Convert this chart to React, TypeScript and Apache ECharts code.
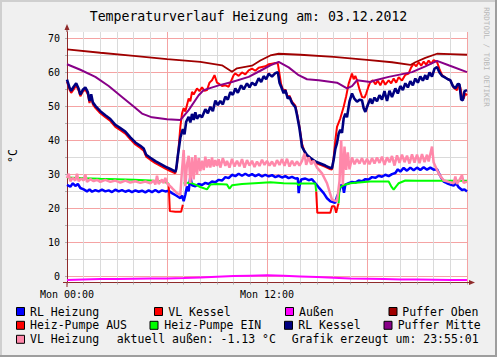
import React, { useEffect, useRef } from "react";
import * as echarts from "echarts";

// ---- data (hours of the day, °C) ----
const rlHeizung: [number, number][] = [
  [0, 26.9], [0.2, 26.4], [0.35, 27.4], [0.5, 26.6], [0.65, 27.2], [0.8, 26.0], [1.0, 25.6], [1.2, 25.0], [1.35, 25.6], [1.5, 24.9], [1.7, 25.4], [1.9, 25.0], [2.1, 25.5], [2.3, 25.0], [2.5, 25.3], [2.7, 24.8], [2.9, 25.5], [3.1, 25.0], [3.3, 25.4], [3.5, 24.9], [3.7, 25.3], [3.9, 24.8], [4.1, 25.3], [4.3, 24.9], [4.5, 25.2], [4.7, 24.7], [4.9, 25.3], [5.1, 24.8], [5.3, 25.4], [5.5, 24.8], [5.7, 25.3], [5.9, 25.0], [6.1, 25.2], [6.3, 24.5], [6.55, 23.8], [6.8, 23.0], [6.9, 23.8], [7.0, 22.1], [7.1, 24.0], [7.2, 26.5], [7.3, 25.0], [7.4, 29.4], [7.5, 26.8], [7.7, 26.5], [7.9, 27.2], [8.1, 26.9], [8.3, 27.5], [8.5, 27.2], [8.7, 27.9], [8.9, 27.7], [9.1, 28.4], [9.3, 28.2], [9.5, 29.2], [9.7, 28.9], [9.9, 29.9], [10.1, 29.5], [10.3, 30.2], [10.5, 29.6], [10.7, 30.2], [10.9, 29.6], [11.1, 30.1], [11.3, 29.5], [11.5, 30.0], [11.7, 29.4], [11.9, 29.9], [12.1, 29.4], [12.3, 29.8], [12.5, 29.2], [12.7, 29.6], [12.9, 29.1], [13.1, 29.5], [13.3, 28.9], [13.5, 29.3], [13.7, 28.8], [13.85, 28.9], [13.9, 24.5], [13.95, 26.5], [14.05, 28.5], [14.3, 28.8], [14.5, 28.3], [14.7, 28.6], [14.9, 27.4], [15.1, 26.2], [15.4, 24.5], [15.6, 23.0], [15.8, 22.1], [16.0, 21.8], [16.1, 21.6], [16.2, 23.5], [16.3, 24.5], [16.45, 27.0], [16.55, 26.5], [16.62, 24.6], [16.7, 27.0], [16.9, 27.4], [17.1, 27.8], [17.3, 27.6], [17.5, 28.2], [17.7, 28.0], [17.9, 28.6], [18.1, 28.5], [18.3, 29.2], [18.5, 29.0], [18.7, 29.6], [18.9, 29.3], [19.1, 29.9], [19.3, 29.5], [19.5, 30.1], [19.7, 30.4], [19.85, 31.5], [20.0, 30.8], [20.2, 31.9], [20.4, 31.1], [20.6, 32.0], [20.8, 31.2], [21.0, 32.0], [21.2, 31.3], [21.4, 32.1], [21.6, 31.4], [21.8, 32.0], [22.0, 31.4], [22.2, 31.5], [22.4, 29.5], [22.6, 27.9], [22.8, 27.4], [23.0, 27.0], [23.2, 26.7], [23.35, 27.4], [23.5, 26.2], [23.7, 25.4], [23.85, 25.6], [24, 25.0],
];

const vlKessel: [number, number][] = [
  [0, 57.3], [0.15, 55.0], [0.25, 54.0], [0.4, 55.0], [0.55, 56.2], [0.7, 54.6], [0.8, 53.0], [0.95, 54.4], [1.1, 55.0], [1.25, 53.6], [1.35, 51.0], [1.45, 53.0], [1.55, 50.6], [1.7, 49.6], [2.0, 48.0], [2.3, 46.8], [2.6, 45.7], [2.9, 44.0], [3.2, 43.0], [3.5, 42.0], [3.8, 40.3], [4.1, 38.8], [4.4, 37.8], [4.6, 37.0], [4.75, 35.2], [5.0, 34.3], [5.3, 33.3], [5.6, 32.5], [5.9, 31.7], [6.2, 31.0], [6.5, 30.3], [6.6, 33.0], [6.7, 38.0], [6.8, 44.0], [6.9, 47.9], [7.0, 49.5], [7.1, 48.5], [7.3, 52.3], [7.4, 51.5], [7.5, 54.3], [7.6, 53.5], [7.8, 55.3], [7.95, 54.5], [8.1, 55.6], [8.25, 54.6], [8.4, 54.8], [8.55, 57.0], [8.7, 57.7], [8.85, 59.2], [9.0, 57.0], [9.1, 56.7], [9.3, 56.0], [9.5, 56.2], [9.7, 55.8], [9.85, 57.5], [10.0, 59.2], [10.1, 59.7], [10.3, 59.0], [10.5, 60.0], [10.7, 59.4], [10.9, 60.6], [11.1, 61.1], [11.3, 60.5], [11.5, 61.4], [11.7, 61.6], [11.9, 61.8], [12.1, 62.4], [12.3, 62.6], [12.5, 62.8], [12.65, 62.6], [12.75, 59.5], [12.85, 56.5], [13.0, 54.3], [13.1, 55.0], [13.25, 52.6], [13.35, 53.2], [13.5, 51.4], [13.7, 50.2], [13.8, 48.0], [13.95, 44.0], [14.1, 39.0], [14.3, 35.9], [14.6, 34.5], [14.9, 33.4], [15.2, 32.8], [15.5, 32.2], [15.75, 31.6], [15.9, 31.4], [16.0, 35.0], [16.1, 40.0], [16.2, 44.0], [16.4, 46.5], [16.6, 49.9], [16.75, 53.0], [16.9, 56.7], [17.0, 58.2], [17.1, 59.7], [17.2, 58.0], [17.3, 59.0], [17.4, 57.7], [17.55, 55.0], [17.7, 52.8], [17.85, 52.6], [17.95, 53.8], [18.1, 56.0], [18.2, 57.2], [18.35, 57.7], [18.5, 56.5], [18.65, 57.6], [18.8, 56.2], [18.95, 57.8], [19.1, 56.4], [19.3, 57.7], [19.45, 56.8], [19.6, 58.2], [19.75, 57.0], [19.9, 58.6], [20.1, 57.6], [20.3, 59.3], [20.5, 59.7], [20.65, 61.5], [20.8, 62.6], [20.95, 61.8], [21.1, 63.0], [21.25, 62.0], [21.4, 63.2], [21.55, 62.3], [21.7, 63.5], [21.85, 62.6], [22.0, 63.6], [22.2, 63.1], [22.35, 61.0], [22.5, 59.2], [22.7, 58.5], [23.0, 57.7], [23.2, 55.5], [23.4, 54.8], [23.5, 56.2], [23.6, 55.6], [23.7, 53.0], [23.8, 52.3], [23.9, 53.8], [24, 53.3],
];

const aussen: [number, number][] = [
  [0, -1.1], [1, -0.9], [2, -0.8], [3, -0.8], [4, -0.7], [5, -0.6], [6, -0.6], [7, -0.5], [8, -0.3], [9, -0.1], [10, 0.1], [11, 0.2], [12, 0.3], [13, 0.2], [14, 0.0], [15, -0.2], [16, -0.4], [17, -0.6], [18, -0.7], [19, -0.8], [20, -0.9], [21, -0.9], [22, -1.0], [23, -1.1], [24, -1.1],
];

const pufferOben: [number, number][] = [
  [0, 66.8], [2, 65.8], [4, 64.9], [6, 63.9], [8, 63.1], [9.3, 62.1], [9.9, 60.2], [10.2, 61.2], [11.1, 62.0], [11.6, 63.5], [12.2, 65.0], [12.7, 65.5], [14, 65.2], [16, 64.6], [18, 63.7], [19.5, 63.0], [20.6, 62.2], [20.9, 63.0], [21.5, 64.3], [22.2, 65.5], [23, 65.4], [24, 65.2],
];

const heizPumpeAus: [number, number | null][] = [
  [6.1, 27.3], [6.17, 19.2], [6.5, 19.0], [6.85, 19.0], [6.95, 21.1], [6.96, null],
  [14.95, 25.0], [15.02, 18.7], [15.8, 18.7], [15.9, 20.6], [16.05, 20.6], [16.15, 18.7], [16.25, 20.8], [16.3, 21.5],
];

const heizPumpeEin: [number, number | null][] = [
  [0, 29.1], [1, 28.9], [2, 28.7], [3, 28.6], [4, 28.4], [5, 28.2], [5.8, 27.9], [6.1, 27.3], [6.5, null],
  [7.0, 27.4], [7.4, 27.6], [7.7, 27.0], [8.0, 26.3], [8.4, 25.6], [8.6, 27.0], [9.0, 27.2], [9.6, 27.0], [9.75, 25.8], [9.9, 26.8], [10.5, 27.2], [11.5, 27.5], [12.2, 27.7], [13.0, 27.4], [13.8, 27.3], [13.9, 26.8], [14.0, 27.3], [14.9, 27.3], [14.95, 25.0], [15.5, null],
  [16.3, 21.5], [16.35, 26.0], [16.6, 26.9], [17.0, 27.4], [18.2, 27.9], [19.3, 27.9], [19.45, 26.5], [19.6, 25.5], [19.75, 26.5], [19.9, 27.4], [20.3, 28.2], [21, 28.1], [22, 28.1], [23, 28.1], [24, 28.1],
];

const rlKessel: [number, number][] = [
  [0, 57.9], [0.15, 55.5], [0.25, 54.6], [0.4, 55.8], [0.55, 56.8], [0.7, 55.2], [0.8, 53.5], [0.95, 54.9], [1.1, 55.6], [1.25, 54.2], [1.35, 51.6], [1.45, 53.6], [1.55, 51.2], [1.7, 50.2], [2.0, 48.6], [2.3, 47.4], [2.6, 46.3], [2.9, 44.6], [3.2, 43.6], [3.5, 42.6], [3.8, 40.9], [4.1, 39.4], [4.4, 38.4], [4.6, 37.6], [4.75, 35.8], [5.0, 34.9], [5.3, 33.9], [5.6, 33.1], [5.9, 32.3], [6.2, 31.6], [6.5, 30.8], [6.55, 31.5], [6.65, 35.5], [6.8, 40.8], [6.95, 43.3], [7.05, 41.8], [7.15, 45.5], [7.3, 46.9], [7.4, 45.3], [7.5, 47.8], [7.6, 46.0], [7.7, 48.3], [7.8, 46.4], [7.95, 47.5], [8.1, 46.8], [8.3, 49.2], [8.45, 48.0], [8.6, 49.9], [8.75, 48.6], [8.9, 51.7], [9.05, 50.4], [9.2, 51.6], [9.35, 50.6], [9.5, 52.9], [9.65, 52.0], [9.8, 54.2], [9.95, 53.4], [10.1, 55.3], [10.25, 54.0], [10.45, 56.2], [10.6, 55.0], [10.8, 56.8], [10.95, 55.6], [11.1, 57.0], [11.3, 56.2], [11.5, 58.3], [11.65, 57.2], [11.8, 58.9], [11.95, 58.0], [12.1, 59.6], [12.3, 58.8], [12.5, 59.8], [12.65, 60.1], [12.75, 57.0], [12.85, 55.8], [13.0, 53.9], [13.1, 54.8], [13.25, 52.3], [13.35, 52.8], [13.5, 51.0], [13.7, 49.8], [13.8, 47.5], [13.95, 43.5], [14.1, 38.2], [14.25, 36.8], [14.4, 35.7], [14.6, 34.9], [14.9, 33.8], [15.2, 33.2], [15.5, 32.6], [15.75, 32.0], [15.9, 31.8], [16.0, 34.3], [16.1, 37.5], [16.2, 39.2], [16.3, 42.0], [16.4, 43.1], [16.5, 42.2], [16.6, 46.5], [16.7, 47.9], [16.8, 46.8], [16.95, 51.5], [17.1, 53.8], [17.25, 52.2], [17.4, 51.4], [17.55, 52.0], [17.7, 51.8], [17.8, 49.5], [17.9, 48.4], [18.05, 50.5], [18.2, 52.3], [18.3, 50.8], [18.45, 52.6], [18.6, 51.5], [18.75, 53.3], [18.9, 52.0], [19.05, 54.5], [19.2, 51.6], [19.35, 54.6], [19.5, 52.8], [19.7, 55.3], [19.85, 53.8], [20.0, 56.0], [20.15, 54.8], [20.3, 56.8], [20.45, 55.6], [20.6, 57.4], [20.75, 56.2], [20.9, 58.2], [21.05, 57.0], [21.2, 58.8], [21.35, 57.6], [21.5, 59.2], [21.6, 57.9], [21.75, 60.0], [21.9, 58.8], [22.05, 61.1], [22.2, 61.6], [22.35, 60.0], [22.5, 59.0], [22.65, 58.6], [22.85, 58.0], [23.0, 57.7], [23.15, 56.0], [23.3, 55.3], [23.45, 56.6], [23.55, 56.5], [23.65, 52.0], [23.75, 51.8], [23.85, 54.5], [24, 54.8],
];

const pufferMitte: [number, number][] = [
  [0, 62.4], [0.8, 60.8], [1.7, 58.7], [2.5, 56.0], [3.3, 52.8], [4.0, 50.0], [4.5, 47.9], [5.1, 46.8], [6.0, 46.2], [6.8, 46.0], [7.3, 48.9], [7.9, 53.3], [8.2, 54.8], [9.1, 56.2], [9.9, 57.2], [10.9, 58.7], [11.6, 60.5], [12.2, 62.1], [12.7, 63.1], [13.3, 61.5], [13.9, 59.2], [14.4, 58.0], [15.1, 57.7], [16.2, 57.0], [16.8, 55.3], [17.1, 56.0], [17.4, 57.7], [18.2, 57.2], [18.5, 57.7], [19.3, 58.7], [20.7, 60.1], [21.5, 61.8], [22.2, 63.4], [22.9, 62.1], [24, 60.1],
];

const vlHeizung: [number, number][] = [
  [0, 28.9], [0.1, 30.2], [0.2, 28.0], [0.35, 29.0], [0.5, 28.2], [0.6, 30.2], [0.7, 28.0], [0.85, 28.8], [1.0, 28.2], [1.1, 30.0], [1.2, 27.8], [1.4, 28.6], [1.6, 28.0], [1.8, 28.4], [2.0, 27.8], [2.3, 28.4], [2.6, 27.8], [2.9, 28.2], [3.2, 27.6], [3.5, 28.2], [3.8, 27.6], [4.1, 28.0], [4.4, 27.5], [4.7, 27.9], [5.0, 27.4], [5.2, 28.2], [5.3, 27.0], [5.4, 29.6], [5.5, 27.2], [5.7, 28.5], [5.8, 27.4], [5.9, 29.0], [6.0, 27.4], [6.3, 26.0], [6.6, 24.5], [6.8, 24.0], [6.9, 31.3], [7.0, 37.2], [7.1, 26.5], [7.2, 33.0], [7.3, 35.5], [7.4, 27.5], [7.5, 35.0], [7.6, 28.5], [7.7, 35.7], [7.8, 30.0], [7.9, 34.8], [8.0, 31.0], [8.1, 34.0], [8.2, 31.3], [8.3, 35.2], [8.4, 32.0], [8.5, 34.5], [8.6, 32.0], [8.7, 35.0], [8.8, 32.3], [8.9, 34.2], [9.0, 32.5], [9.1, 34.5], [9.2, 32.0], [9.35, 34.8], [9.5, 32.5], [9.6, 34.0], [9.75, 32.0], [9.9, 34.6], [10.05, 32.3], [10.2, 34.0], [10.35, 32.4], [10.5, 34.5], [10.65, 32.0], [10.8, 34.2], [10.95, 32.6], [11.1, 34.0], [11.25, 32.2], [11.4, 33.8], [11.55, 32.5], [11.7, 34.3], [11.85, 32.8], [12.0, 34.0], [12.15, 32.6], [12.3, 33.8], [12.45, 32.4], [12.6, 34.2], [12.75, 32.8], [12.9, 34.5], [13.05, 32.5], [13.2, 34.6], [13.35, 32.3], [13.5, 34.0], [13.65, 32.6], [13.8, 33.8], [13.95, 32.6], [14.1, 34.0], [14.25, 36.1], [14.35, 32.8], [14.5, 35.0], [14.65, 33.0], [14.8, 34.0], [15.0, 32.0], [15.3, 30.3], [15.6, 27.4], [15.9, 22.6], [16.2, 22.1], [16.35, 28.0], [16.45, 40.1], [16.55, 27.0], [16.65, 38.2], [16.75, 31.3], [16.85, 36.5], [16.95, 31.5], [17.1, 35.0], [17.25, 33.0], [17.4, 34.5], [17.55, 33.2], [17.7, 34.8], [17.85, 33.0], [18.0, 34.6], [18.15, 33.0], [18.3, 34.8], [18.45, 33.2], [18.6, 35.0], [18.75, 33.4], [18.9, 35.2], [19.05, 32.8], [19.2, 35.0], [19.35, 33.6], [19.5, 35.4], [19.65, 32.6], [19.8, 35.6], [19.95, 33.4], [20.1, 35.8], [20.25, 33.6], [20.4, 35.5], [20.55, 33.2], [20.7, 35.9], [20.85, 33.5], [21.0, 35.8], [21.15, 33.3], [21.3, 36.0], [21.45, 33.6], [21.6, 35.8], [21.7, 33.8], [21.8, 36.0], [21.9, 38.2], [22.0, 33.5], [22.2, 31.3], [22.4, 29.5], [22.6, 28.3], [22.9, 27.8], [23.2, 27.4], [23.3, 29.4], [23.4, 27.2], [23.55, 28.4], [23.7, 29.8], [23.8, 27.5], [24, 27.9],
];

const seriesNames = ["RL Heizung", "VL Kessel", "Außen", "Puffer Oben", "Heiz-Pumpe AUS", "Heiz-Pumpe EIN", "RL Kessel", "Puffer Mitte", "VL Heizung"];
const seriesColors = ["#0000ff", "#ff0000", "#ff00ff", "#a00000", "#ff0000", "#00ff00", "#000080", "#880088", "#ff88aa"];
const seriesWidths = [2.5, 2, 2, 1.8, 2, 2, 2.6, 2, 2.5];
const seriesData = [rlHeizung, vlKessel, aussen, pufferOben, heizPumpeAus, heizPumpeEin, rlKessel, pufferMitte, vlHeizung];

const yTickValues = [0, 5, 10, 15, 20, 25, 30, 35, 40, 45, 50, 55, 60, 65, 70];
const yLabelValues = [0, 10, 20, 30, 40, 50, 60, 70];
const xLabelHours = [0, 12];
const xLabelTexts = ["Mon 00:00", "Mon 12:00"];

const titleText = "Temperaturverlauf Heizung am: 03.12.2012";
const unitText = "°C";
const currentText = "aktuell außen: -1.13 °C";
const createdText = "Grafik erzeugt um: 23:55:01";
const creditText = "RRDTOOL / TOBI OETIKER";

const MONO = '"DejaVu Sans Mono", monospace';
const MAJOR = "#f5a3a3";
const MINOR = "#dadada";
const AXIS = "#8f2a2a";

// legend layout: [seriesIndex, boxX, textX, rowY]
const legendLayout: [number, number, number, number][] = [
  [0, 16.5, 30, 311.5], [1, 154.5, 168.3, 311.5], [2, 285.5, 299, 311.5], [3, 389, 402.3, 311.5],
  [4, 16.5, 30, 325.3], [5, 150, 164.3, 325.3], [6, 284.5, 298.3, 325.3], [7, 384, 397.7, 325.3],
  [8, 16.5, 30, 339.3],
];

export default function App() {
  const ref = useRef<HTMLDivElement>(null);
  useEffect(() => {
    document.body.style.margin = "0";
    if (!ref.current) return;
    const chart = echarts.init(ref.current, undefined, { renderer: "svg" });

    const graphics: any[] = [
      { type: "rect", shape: { x: 0, y: 0, width: 497, height: 2 }, style: { fill: "#cfcfcf" }, silent: true },
      { type: "rect", shape: { x: 0, y: 0, width: 2, height: 357 }, style: { fill: "#cfcfcf" }, silent: true },
      { type: "rect", shape: { x: 0, y: 355, width: 497, height: 2 }, style: { fill: "#9e9e9e" }, silent: true },
      { type: "rect", shape: { x: 495, y: 0, width: 2, height: 357 }, style: { fill: "#9e9e9e" }, silent: true },
      { type: "text", x: 248.5, y: 16.5, style: { text: titleText, font: `13.2px ${MONO}`, fill: "#000", textAlign: "center", textVerticalAlign: "middle" } },
      { type: "text", x: 13, y: 156, rotation: Math.PI / 2, style: { text: unitText, font: `11.5px ${MONO}`, fill: "#000", textAlign: "center", textVerticalAlign: "middle" } },
      { type: "text", x: 486, y: 57, rotation: -Math.PI / 2, style: { text: creditText, font: `7.5px ${MONO}`, fill: "#b8b8b8", textAlign: "center", textVerticalAlign: "middle" } },
      // axis extensions and arrows
      { type: "line", shape: { x1: 67, y1: 26, x2: 67, y2: 32 }, style: { stroke: AXIS, lineWidth: 1 }, z: 10 },
      { type: "line", shape: { x1: 67, y1: 282, x2: 67, y2: 287 }, style: { stroke: AXIS, lineWidth: 1 }, z: 10 },
      { type: "polygon", shape: { points: [[64.5, 30], [69.5, 30], [67, 24]] }, style: { fill: AXIS }, z: 10 },
      { type: "line", shape: { x1: 63, y1: 282.5, x2: 67, y2: 282.5 }, style: { stroke: AXIS, lineWidth: 1 }, z: 10 },
      { type: "line", shape: { x1: 467, y1: 282.5, x2: 472, y2: 282.5 }, style: { stroke: AXIS, lineWidth: 1 }, z: 10 },
      { type: "polygon", shape: { points: [[469, 280], [469, 285], [475, 282.5]] }, style: { fill: AXIS }, z: 10 },
      { type: "text", x: 116.7, y: 339.3, style: { text: currentText, font: `11.5px ${MONO}`, fill: "#000", textAlign: "left", textVerticalAlign: "middle" } },
      { type: "text", x: 291.7, y: 339.3, style: { text: createdText, font: `11.5px ${MONO}`, fill: "#000", textAlign: "left", textVerticalAlign: "middle" } },
    ];
    legendLayout.forEach(([si, bx, tx, ry]) => {
      graphics.push({ type: "rect", shape: { x: bx, y: ry - 4, width: 8, height: 8 }, style: { fill: seriesColors[si], stroke: "#000", lineWidth: 1 } });
      graphics.push({ type: "text", x: tx, y: ry, style: { text: seriesNames[si], font: `11.5px ${MONO}`, fill: "#000", textAlign: "left", textVerticalAlign: "middle" } });
    });

    chart.setOption({
      animation: false,
      backgroundColor: "#f0f0f0",
      grid: { left: 67, right: 30, top: 32, bottom: 74.5, show: true, backgroundColor: "#ffffff", borderWidth: 0, containLabel: false },
      xAxis: {
        type: "value",
        min: 0,
        max: 24,
        interval: 1,
        axisLine: { show: true, onZero: false, lineStyle: { color: AXIS, width: 1 } },
        axisTick: { show: true, length: 2, lineStyle: { color: "#b0b0b0" } },
        axisLabel: {
          fontFamily: MONO,
          fontSize: 10,
          color: "#000",
          margin: 7,
          formatter: (v: number) => {
            const i = xLabelHours.indexOf(v);
            return i >= 0 ? xLabelTexts[i] : "";
          },
        },
        splitLine: { show: true, lineStyle: { color: [MAJOR, MINOR, MINOR, MINOR, MINOR, MINOR], width: 1 } },
      },
      yAxis: {
        type: "value",
        min: -1.8,
        max: 71.9,
        axisLine: { show: true, onZero: false, lineStyle: { color: AXIS, width: 1 } },
        axisTick: { show: true, length: 2, customValues: yTickValues, lineStyle: { color: "#b0b0b0" } },
        axisLabel: { fontFamily: MONO, fontSize: 10, color: "#000", margin: 7, customValues: yLabelValues },
        splitLine: { show: true, lineStyle: { color: [MAJOR, MINOR], width: 1 } },
      },
      graphic: graphics,
      series: seriesData.map((d, i) => ({
        name: seriesNames[i],
        type: "line",
        data: d,
        showSymbol: false,
        symbol: "none",
        connectNulls: false,
        lineStyle: { color: seriesColors[i], width: seriesWidths[i] },
        itemStyle: { color: seriesColors[i] },
        z: 2 + i * 0.01,
      })),
    });
    return () => chart.dispose();
  }, []);
  return <div ref={ref} style={{ width: 497, height: 357 }} />;
}
